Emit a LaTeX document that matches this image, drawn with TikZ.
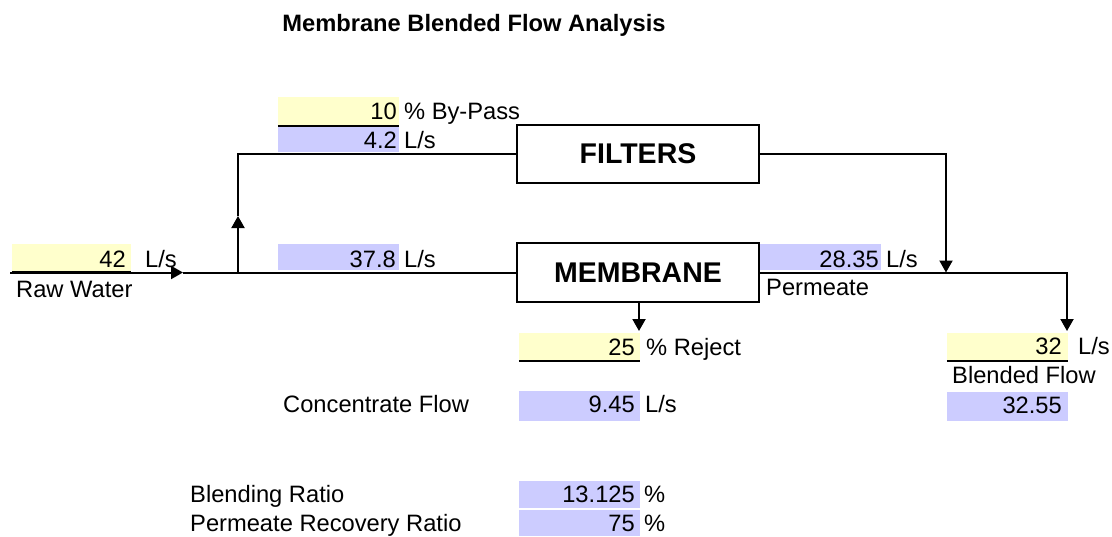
\documentclass[tikz,border=0pt]{standalone}
\usepackage{fontspec}
\setmainfont{Liberation Sans}
\usetikzlibrary{arrows.meta}
\definecolor{cellyellow}{HTML}{FFFFCC}
\definecolor{cellblue}{HTML}{CCCCFF}
\begin{document}
\begin{tikzpicture}[x=1pt,y=-1pt,
  every node/.style={font=\fontsize{23.7}{28}\selectfont, inner sep=0pt},
  lbl/.style={anchor=base west},
  num/.style={anchor=base east},
  ycell/.style={fill=cellyellow, draw=none, minimum width=121pt},
  bcell/.style={fill=cellblue, draw=none, minimum width=121pt},
  uline/.style={line width=2.4pt},
  flow/.style={line width=2pt},
  arr/.style={flow, -{Triangle[length=12pt,width=13pt]}},
  unit/.style={draw, line width=2pt, fill=white, minimum width=242pt,
    font=\fontsize{28.5}{32}\selectfont\bfseries}
]
\useasboundingbox (0,0) rectangle (1112,536);

% title
\node[anchor=base, font=\fontsize{23.7}{28}\selectfont\bfseries] (title) at (474,31) {Membrane Blended Flow Analysis};

% cells
\node[ycell, minimum width=119pt, minimum height=27.5pt] (raw) at (71.5,257.75) {};
\node[ycell, minimum height=28pt] (bp) at (338.5,111) {};
\node[bcell, minimum height=25pt] (bpflow) at (338.5,139.5) {};
\node[bcell, minimum height=26pt] (memin) at (338.5,257) {};
\node[bcell, minimum height=26pt] (perm) at (820.5,257) {};
\node[ycell, minimum height=27pt] (rej) at (579.5,346.5) {};
\node[bcell, minimum height=30pt] (conc) at (579.5,406) {};
\node[ycell, minimum height=27pt] (blend) at (1007.5,346.5) {};
\node[bcell, minimum height=29pt] (blendcalc) at (1007.5,406.5) {};
\node[bcell, minimum height=27pt] (bratio) at (579.5,494.5) {};
\node[bcell, minimum height=26pt] (prr) at (579.5,523) {};

% underlines of input cells
\draw[line width=2.6pt] ([yshift=-1pt]raw.south west) -- ([yshift=-1pt]raw.south east);
\draw[uline] ([yshift=-1pt]bp.south west) -- ([yshift=-1pt]bp.south east);
\draw[uline] ([yshift=-1pt]rej.south west) -- ([yshift=-1pt]rej.south east);
\draw[uline] ([yshift=-1pt]blend.south west) -- ([yshift=-1pt]blend.south east);

% process units
\node[unit, minimum height=58pt] (filters) at (638,154) {FILTERS};
\node[unit, minimum height=59pt] (membrane) at (638,272.5) {MEMBRANE};

% flow lines
\coordinate (rawstart) at (10,272.5);
\coordinate (rawtip) at (183,272.5);
\coordinate (junc) at (238,272.5);
\coordinate (bptip) at (238,216);
\coordinate (junc2) at (946,272.5);
\coordinate (blendtip) at (1067,331);
\coordinate (rejtip) at (639,331);

\draw[arr] (rawstart) -- (rawtip);
\draw[flow] (rawtip) -- (junc) -- (membrane.west);
\draw[arr] (junc) -- (bptip);
\draw[flow] (bptip) |- (filters.west);
\draw[arr] (filters.east) -| (junc2);
\draw[flow] (membrane.east) -- (junc2);
\draw[arr] (junc2) -| (blendtip);
\draw[arr] (membrane.south -| rejtip) -- (rejtip);

% numbers
\node[num] (n42) at (126,267) {42};
\node[num] (n10) at (397,119) {10};
\node[num] (n42b) at (397,148) {4.2};
\node[num] (n378) at (396,267) {37.8};
\node[num] (n2835) at (879,267) {28.35};
\node[num] (n25) at (635,355) {25};
\node[num] (n945) at (635,412) {9.45};
\node[num] (n32) at (1062,354) {32};
\node[num] (n3255) at (1062,413) {32.55};
\node[num] (n13125) at (635,502) {13.125};
\node[num] (n75) at (635,531) {75};

% labels
\node[lbl] (u1) at (145,267) {L/s};
\node[lbl] (u2) at (404,119) {\% By-Pass};
\node[lbl] (u3) at (404,148) {L/s};
\node[lbl] (u4) at (404,267) {L/s};
\node[lbl] (u5) at (886,267) {L/s};
\node[lbl] (u6) at (646,355) {\% Reject};
\node[lbl] (u7) at (645,412) {L/s};
\node[lbl] (u8) at (1078,354) {L/s};
\node[lbl] (u9) at (644,502) {\%};
\node[lbl] (u10) at (644,531) {\%};
\node[lbl] (rawlbl) at (16,297) {Raw Water};
\node[lbl] (permlbl) at (766,295) {Permeate};
\node[lbl] (blendlbl) at (952,383) {Blended Flow};
\node[lbl] (conclbl) at (283,412) {Concentrate Flow};
\node[lbl] (brlbl) at (190,502) {Blending Ratio};
\node[lbl] (prrlbl) at (190,531) {Permeate Recovery Ratio};
\end{tikzpicture}
\end{document}
